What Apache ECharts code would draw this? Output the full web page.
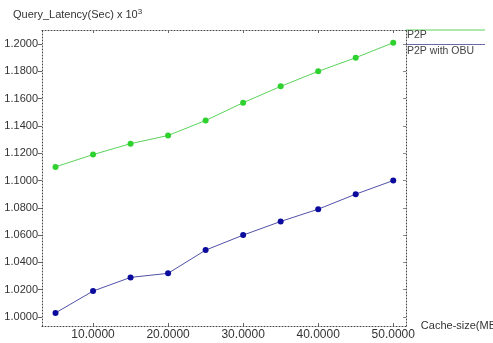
<!DOCTYPE html>
<html><head><meta charset="utf-8">
<script src="https://cdn.jsdelivr.net/npm/echarts@6/dist/echarts.min.js"></script>
<style>html,body{margin:0;padding:0;background:#fff}#c{width:493px;height:343px}</style>
</head><body><div id="c"></div>
<script>
const cacheSizes = [5, 10, 15, 20, 25, 30, 35, 40, 45, 50];
const p2p = [1.110, 1.119, 1.127, 1.133, 1.144, 1.157, 1.169, 1.180, 1.190, 1.201];
const p2pObu = [1.003, 1.019, 1.029, 1.032, 1.049, 1.060, 1.070, 1.079, 1.090, 1.100];
const xTicks = [10, 20, 30, 40, 50];
const yTicks = [1.00, 1.02, 1.04, 1.06, 1.08, 1.10, 1.12, 1.14, 1.16, 1.18, 1.20];
const seriesNames = ['P2P', 'P2P with OBU'];
const yTitle = 'Query_Latency(Sec) x 10';
const xTitle = 'Cache-size(MB)';

const font = 'Liberation Sans, Arial, sans-serif';
const chart = echarts.init(document.getElementById('c'), null, {renderer: 'canvas'});
const dotted = {color: '#444', type: [1, 2], width: 1};
const base = {
  animation: false,
  grid: {left: 42, right: 87, top: 30, bottom: 17, containLabel: false, outerBoundsMode: 'none'},
  xAxis: [
    {type: 'value', min: 3.2, max: 51.7, position: 'bottom',
     name: xTitle, nameLocation: 'end', nameGap: 7,
     nameTextStyle: {color: '#333', fontSize: 11, fontFamily: font, verticalAlign: 'middle', align: 'left'},
     axisLine: {show: true, lineStyle: dotted},
     axisTick: {show: true, inside: true, length: 3, lineStyle: {color: '#666'}, customValues: xTicks},
     axisLabel: {customValues: xTicks, formatter: v => v.toFixed(4), color: '#333', fontSize: 12, fontFamily: font, margin: 3},
     splitLine: {show: false}},
    {type: 'value', min: 3.2, max: 51.7, position: 'top',
     axisLine: {show: true, lineStyle: dotted},
     axisTick: {show: true, inside: true, length: 3, lineStyle: {color: '#666'}, customValues: xTicks},
     axisLabel: {show: false}, splitLine: {show: false}}
  ],
  yAxis: [
    {type: 'value', min: 0.9934, max: 1.2103, position: 'left',
     axisLine: {show: true, lineStyle: dotted},
     axisTick: {show: true, length: 4, lineStyle: {color: '#666'}, customValues: yTicks},
     axisLabel: {customValues: yTicks, formatter: v => v.toFixed(4), color: '#333', fontSize: 11, fontFamily: font, margin: 4},
     splitLine: {show: false}},
    {type: 'value', min: 0.9934, max: 1.2103, position: 'right',
     axisLine: {show: true, lineStyle: dotted},
     axisTick: {show: true, inside: true, length: 3, lineStyle: {color: '#888'}, customValues: yTicks},
     axisLabel: {show: false}, splitLine: {show: false}}
  ],
  series: [
    {name: seriesNames[0], type: 'line', data: cacheSizes.map((x, i) => [x, p2p[i]]),
     symbol: 'circle', symbolSize: 6, lineStyle: {color: '#5ad25a', width: 1},
     itemStyle: {color: '#2fd12f'}},
    {name: seriesNames[1], type: 'line', data: cacheSizes.map((x, i) => [x, p2pObu[i]]),
     symbol: 'circle', symbolSize: 6, lineStyle: {color: '#5050a8', width: 1},
     itemStyle: {color: '#0b0b9e'}}
  ],
  graphic: [
    {type: 'text', left: 13, top: 8, style: {rich: {a: {fontSize: 11, fill: '#333', fontFamily: font}, s: {fontSize: 8, fill: '#333', fontFamily: font, verticalAlign: 'top', padding: [0, 0, 6, 0]}}, text: '{a|' + yTitle + '}{s|3}'}},
    {type: 'line', shape: {x1: 406, y1: 30, x2: 485, y2: 30}, style: {stroke: '#5ad25a', lineWidth: 1}},
    {type: 'text', left: 407, top: 30, style: {text: seriesNames[0], fontSize: 10.5, fill: '#444', fontFamily: font}},
    {type: 'line', shape: {x1: 406, y1: 44.5, x2: 485, y2: 44.5}, style: {stroke: '#6a6aa8', lineWidth: 1}},
    {type: 'text', left: 407, top: 46, style: {text: seriesNames[1], fontSize: 10.5, fill: '#444', fontFamily: font}}
  ]
};
chart.setOption(base);
</script></body></html>
